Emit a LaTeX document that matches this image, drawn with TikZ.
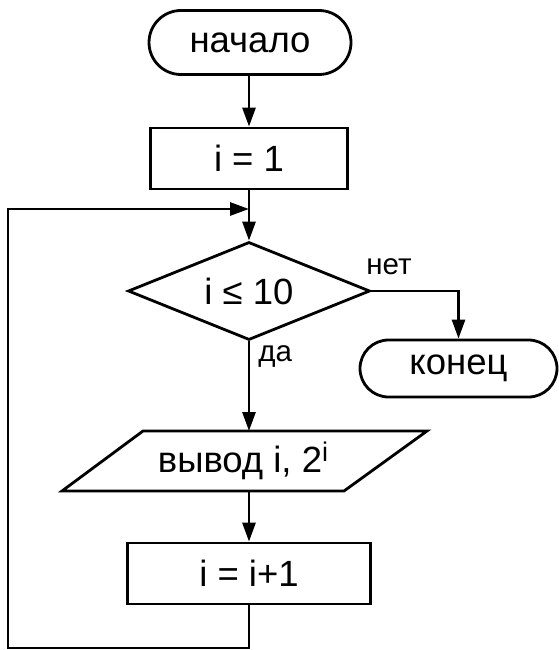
\documentclass[tikz,border=0pt]{standalone}
\usepackage{fontspec}
\setmainfont{Liberation Sans}
\usetikzlibrary{shapes.geometric,shapes.misc,arrows.meta}
\begin{document}
\begin{tikzpicture}[x=1pt,y=1pt,
  line width=2.8pt,
  every node/.style={inner sep=0pt, font=\fontsize{36.5}{42}\selectfont},
  term/.style={rounded rectangle, draw, minimum width=202pt, minimum height=64pt},
  proc/.style={rectangle, draw, minimum height=61pt},
  dec/.style={diamond, draw, aspect=2.5, minimum width=242pt, minimum height=98pt},
  lbl/.style={font=\fontsize{29.5}{34}\selectfont},
  arr/.style={-{Triangle[length=19pt,width=13pt]}}
]
\useasboundingbox (0,0) rectangle (558,-650);
\node[term] (n) at (250,-42.5) {начало};
\node[proc, minimum width=197pt] (b1) at (249,-158.5) {i = 1};
\node[dec] (d) at (249,-291) {i ≤ 10};
\node[term, minimum width=197pt, minimum height=57pt] (k) at (458.5,-368.5) {конец};
\node (io) at (243,-461) {вывод i, 2{\fontsize{27}{30}\selectfont\raisebox{11pt}{i}}};
\coordinate (p1) at (143,-431);
\coordinate (p2) at (427,-431);
\coordinate (p3) at (344,-491);
\coordinate (p4) at (62,-491);
\draw[line join=miter] (p1) -- (p2) -- (p3) -- (p4) -- cycle;
\coordinate (iotop) at (249,-431);
\coordinate (iobot) at (249,-491);
\node[proc, minimum width=243pt] (b2) at (249,-573.5) {i = i+1};
\node[lbl] (net) at (389,-267) {нет};
\node[lbl, anchor=west] (da) at (257,-356) {да};
\coordinate (lb) at (8,-648);
\coordinate (lt) at (8,-209);
\coordinate (j) at (249,-209);

\draw[arr] (n.south -| b1.north) -- (b1.north);
\draw[arr] (b1.south) -- (d.north);
\draw[arr] (d.east) -| (k.north);
\draw[arr] (d.south) -- (iotop);
\draw[arr] (iobot) -- (b2.north);
\draw[arr] (b2.south) |- (lb) -- (lt) -- (j);
\end{tikzpicture}
\end{document}
